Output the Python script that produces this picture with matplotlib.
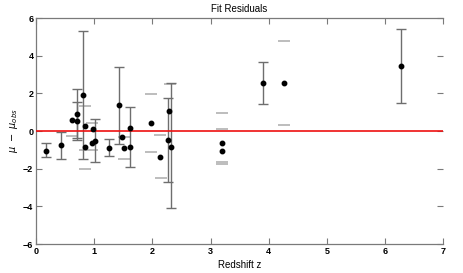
#!/usr/bin/env python3
"""Fit residuals vs redshift, MATLAB-style errorbar plot."""

import matplotlib
matplotlib.use("Agg")
import matplotlib.pyplot as plt
import numpy as np

# redshift and residual of each object
z = [0.17, 0.43, 0.61, 0.70, 0.71, 0.80, 0.84, 0.84, 0.96, 0.98, 1.02, 1.25, 1.43,
     1.48, 1.52, 1.61, 1.62, 1.98, 2.13, 2.26, 2.29, 2.32, 3.20, 3.20, 3.91, 4.27, 6.28]
resid = [-1.05, -0.74, 0.60, 0.55, 0.92, 1.93, 0.27, -0.83, -0.62, 0.10, -0.52, -0.92, 1.37,
         -0.34, -0.89, 0.16, -0.85, 0.43, -1.37, -0.48, 1.05, -0.83, -1.05, -0.66, 2.54, 2.54, 3.47]
# dark error bars (0 = none drawn)
err_lo = [0.35, 0.76, 0, 1.00, 1.30, 3.40, 0, 0, 0, 0, 1.11, 0.41, 2.04,
          0, 0, 2.09, 0, 0, 0, 2.22, 0, 3.28, 0, 0, 1.12, 0, 2.00]
err_hi = [0.40, 0.70, 0, 1.01, 1.30, 3.40, 0, 0, 0, 0, 1.14, 0.48, 2.05,
          0, 0, 1.10, 0, 0, 0, 2.22, 0, 3.40, 0, 0, 1.11, 0, 1.97]

# stray light-grey caps
cap_z = [0.61, 0.84, 0.84, 0.84, 0.96, 0.96, 1.51, 1.51, 1.98, 1.98, 2.13, 2.14,
         2.31, 3.20, 3.20, 3.20, 3.20, 4.27, 4.27]
cap_y = [-0.25, 1.35, -1.00, -2.00, 0.44, -0.98, -0.34, -1.49, 1.94, -1.10, -0.21, -2.48,
         2.48, 0.97, 0.09, -1.67, -1.77, 4.77, 0.30]

xticks = [0, 1, 2, 3, 4, 5, 6, 7]
yticks = [-6, -4, -2, 0, 2, 4, 6]

plt.rcParams["font.family"] = ["Liberation Sans", "DejaVu Sans"]
axis_grey = "#7a7a7a"

fig = plt.figure(figsize=(4.63, 2.73), dpi=100)
ax = fig.add_axes([0.078, 0.106, 0.879, 0.828])

z_arr = np.array(z)
r_arr = np.array(resid)
lo = np.array(err_lo)
hi = np.array(err_hi)
has_err = (lo > 0) | (hi > 0)

ax.plot(cap_z, cap_y, linestyle="none", marker="_", markersize=8,
        markeredgewidth=1.4, color="#bdbdbd", zorder=1)
ax.errorbar(z_arr[has_err], r_arr[has_err], yerr=[lo[has_err], hi[has_err]],
            fmt="none", ecolor="#6e6e6e", elinewidth=1.0, capsize=3.5,
            capthick=1.0, zorder=2)
ax.axhline(0, color="#ee1111", linewidth=1.2, zorder=3)
ax.plot(z, resid, linestyle="none", marker="o", markersize=3.2,
        color="black", zorder=4)

ax.set_xlim(0, 7)
ax.set_ylim(-6, 6)
ax.set_xticks(xticks)
ax.set_yticks(yticks)
ax.tick_params(direction="in", length=4, width=0.8, color=axis_grey,
               labelsize=6.5, pad=2, top=True, right=True)
for lab in ax.get_xticklabels() + ax.get_yticklabels():
    lab.set_fontweight("bold")
for side in ["left", "bottom", "top"]:
    ax.spines[side].set_color(axis_grey)
    ax.spines[side].set_linewidth(0.9)
ax.spines["right"].set_visible(False)

ax.set_title("Fit Residuals", fontsize=7, pad=4)
ax.set_xlabel("Redshift z", fontsize=7, labelpad=3)
ax.set_ylabel(r"$\mu\ -\ \mu_{obs}$", fontsize=7, labelpad=2)

fig.savefig("out.png", dpi=100)
plt.close(fig)
